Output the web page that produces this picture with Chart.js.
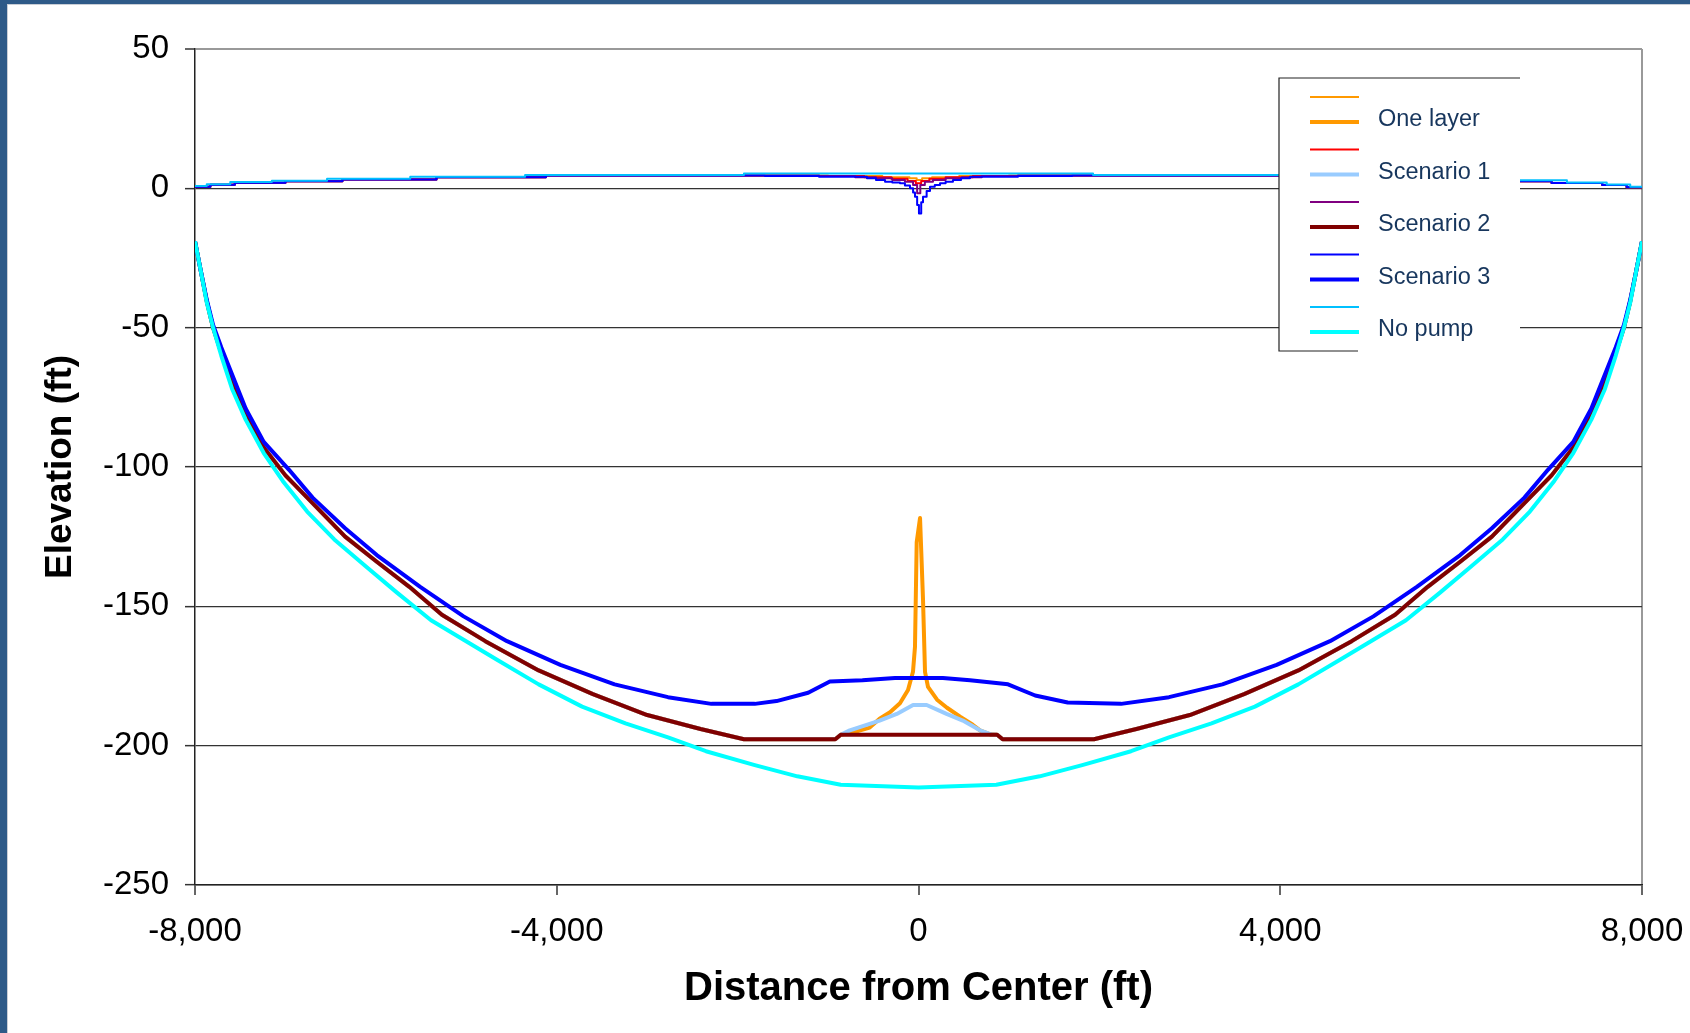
<!DOCTYPE html>
<html>
<head>
<meta charset="utf-8">
<title>Elevation vs distance from center</title>
<script src="https://cdn.jsdelivr.net/npm/chart.js@4.4.1/dist/chart.umd.min.js"></script>
<style>
  html, body { margin: 0; padding: 0; }
  body { width: 1690px; height: 1033px; overflow: hidden; background: #2E5A88; position: relative; }
  #frame { position: absolute; left: 7px; top: 4px; width: 1682px; height: 1028px; background: #fff;
           border-left: 1px solid #c9ced6; border-top: 1px solid #c9ced6; }
  #wrap { position: absolute; left: 0; top: 0; width: 1682px; height: 1028px; }
</style>
</head>
<body>
<div id="frame"><div id="wrap"><canvas id="chart"></canvas></div></div>
<script>
// upper layer (thin lines), elevation in ft, distance in ft
const olThinX = [-8000, -7830, -7560, -7000, -6370, -5330, -4120, -1000, -400, -100, -20, 40, 150, 450, 1000, 4120, 5330, 6370, 7000, 7560, 7830, 8000];
const olThinY = [0.6, 1.3, 2.0, 2.5, 3.2, 4.0, 4.6, 4.4, 4.0, 3.6, 3.0, 3.6, 4.0, 4.4, 4.6, 4.0, 3.2, 2.5, 1.9, 1.2, 0.4, 0.4];

const s1ThinX = [-8000, -7830, -7560, -7000, -6370, -5330, -4120, -1100, -600, -300, -120, -30, 30, 120, 300, 600, 1100, 4120, 5330, 6370, 7000, 7560, 7830, 8000];
const s1ThinY = [0.6, 1.3, 2.0, 2.5, 3.2, 4.0, 4.6, 4.4, 4.0, 3.4, 2.6, 1.8, 2.6, 3.4, 4.0, 4.4, 4.6, 4.0, 3.2, 2.5, 1.9, 1.2, 0.4, 0.4];

const s2ThinX = [-8000, -7830, -7560, -7000, -6370, -5330, -4120, -1100, -700, -470, -290, -150, -60, -15, 20, 70, 160, 300, 480, 700, 1100, 4120, 5330, 6370, 7000, 7560, 7830, 8000];
const s2ThinY = [0.6, 1.3, 2.0, 2.5, 3.2, 4.0, 4.6, 4.4, 4.0, 3.6, 3.0, 2.4, 1.2, -1.8, 1.2, 2.4, 3.0, 3.6, 4.0, 4.4, 4.6, 4.0, 3.2, 2.5, 1.9, 1.2, 0.4, 0.4];

const s3ThinX = [-8000, -7830, -7560, -7000, -6370, -5330, -4120, -1700, -1100, -570, -470, -370, -290, -205, -150, -94, -60, -39, -15, 5, 30, 50, 90, 127, 180, 238, 300, 381, 470, 569, 1100, 1700, 4120, 5330, 6370, 7000, 7560, 7830, 8000];
const s3ThinY = [0.6, 1.3, 2.0, 2.5, 3.2, 4.0, 4.6, 4.4, 4.2, 3.6, 3.0, 2.4, 2.1, 1.8, 1.0, 0, -1.5, -3, -6, -9, -5, -3, -1, 0.6, 1.2, 1.8, 2.4, 3.0, 3.6, 4.2, 4.4, 4.6, 4.0, 3.2, 2.5, 1.9, 1.2, 0.4, 0.4];

const npThinX = [-8000, -7870, -7610, -7150, -6540, -5620, -4350, -1930, 1930, 4350, 5620, 6540, 7170, 7610, 7870, 8000];
const npThinY = [0.8, 1.5, 2.3, 2.7, 3.4, 4.2, 4.8, 5.3, 4.8, 4.2, 3.4, 2.9, 2.1, 1.4, 0.6, 0.6];

// lower layer (thick lines)
const olThickX = [-8000, -7940, -7870, -7800, -7710, -7440, -7240, -7000, -6700, -6340, -5990, -5630, -5270, -4790, -4200, -3600, -3000, -2410, -1930,
  -920, -860, -700, -540, -430, -315, -205, -116, -61, -39, -20, 17, 50, 72, 105, 205, 315, 460, 600, 680, 800, 870, 930,
  1940, 2410, 3000, 3600, 4200, 4790, 5270, 5630, 5990, 6340, 6700, 7000, 7240, 7440, 7710, 7800, 7870, 7940, 8000];
const olThickY = [-19, -29, -40.5, -50, -59, -81, -93, -103, -113, -125, -134, -143, -153, -162.5, -173, -181.5, -189, -194, -197.7,
  -197.7, -196.1, -195, -193.5, -190.3, -188, -184.8, -180, -173.5, -164.6, -127, -118.3, -147.7, -173.5, -178.9, -183.5, -186.4, -189.6, -192.5, -194.5, -196, -196.1, -197.7,
  -197.7, -194, -189, -181.5, -173, -162.5, -153, -143, -134, -125, -113, -103, -93, -81, -59, -50, -40.5, -29, -19];

const s1ThickX = [-8000, -7940, -7870, -7800, -7710, -7440, -7240, -7000, -6700, -6340, -5990, -5630, -5270, -4790, -4200, -3600, -3000, -2410, -1930,
  -920, -860, -760, -430, -240, -60, 90, 310, 490, 680, 810, 870, 930,
  1940, 2410, 3000, 3600, 4200, 4790, 5270, 5630, 5990, 6340, 6700, 7000, 7240, 7440, 7710, 7800, 7870, 7940, 8000];
const s1ThickY = [-19, -29, -40.5, -50, -59, -81, -93, -103, -113, -125, -134, -143, -153, -162.5, -173, -181.5, -189, -194, -197.7,
  -197.7, -196.1, -194.5, -191, -188.6, -185.4, -185.4, -188.6, -191, -194.5, -196, -196.1, -197.7,
  -197.7, -194, -189, -181.5, -173, -162.5, -153, -143, -134, -125, -113, -103, -93, -81, -59, -50, -40.5, -29, -19];

const s2ThickX = [-8000, -7940, -7870, -7800, -7710, -7440, -7240, -7000, -6700, -6340, -5990, -5630, -5270, -4790, -4200, -3600, -3000, -2410, -1930,
  -920, -860, 870, 930,
  1940, 2410, 3000, 3600, 4200, 4790, 5270, 5630, 5990, 6340, 6700, 7000, 7240, 7440, 7710, 7800, 7870, 7940, 8000];
const s2ThickY = [-19, -29, -40.5, -50, -59, -81, -93, -103, -113, -125, -134, -143, -153, -162.5, -173, -181.5, -189, -194, -197.7,
  -197.7, -196.1, -196.1, -197.7,
  -197.7, -194, -189, -181.5, -173, -162.5, -153, -143, -134, -125, -113, -103, -93, -81, -59, -50, -40.5, -29, -19];

const s3ThickX = [-8000, -7940, -7870, -7800, -7710, -7440, -7240, -6960, -6700, -6340, -5990, -5510, -5030, -4550, -3960, -3360, -2770, -2290, -1810, -1570, -1220, -980, -620, -260,
  270, 570, 990, 1290, 1650, 2240,
  2770, 3360, 3960, 4550, 5030, 5510, 5990, 6340, 6700, 6960, 7240, 7440, 7710, 7800, 7870, 7940, 8000];
const s3ThickY = [-19, -29, -40, -49, -57, -79, -91, -101, -111, -122, -131.6, -143, -153.6, -162.5, -171, -178, -182.6, -185, -185, -184, -181, -177, -176.5, -175.7,
  -175.7, -176.5, -178, -182, -184.5, -185,
  -182.6, -178, -171, -162.5, -153.6, -143, -131.6, -122, -111, -101, -91, -79, -57, -49, -40, -29, -19];

const npThickX = [-8000, -7940, -7870, -7800, -7710, -7590, -7440, -7240, -7030, -6760, -6460, -6100, -5770, -5390, -5030, -4670, -4200, -3720, -3240, -2770, -2350, -1810, -1340, -860,
  0,
  860, 1340, 1810, 2350, 2770, 3240, 3720, 4200, 4670, 5030, 5390, 5770, 6100, 6460, 6760, 7030, 7240, 7440, 7590, 7710, 7800, 7870, 7940, 8000];
const npThickY = [-19, -29, -41, -50, -60, -72, -83, -95, -105, -116, -126, -136, -145, -155, -162, -169, -178, -186, -192, -197, -202, -207, -211, -214,
  -215,
  -214, -211, -207, -202, -197, -192, -186, -178, -169, -162, -155, -145, -136, -126, -116, -105, -95, -83, -72, -60, -50, -41, -29, -19];

const xTicks = [-8000, -4000, 0, 4000, 8000];
const yTicks = [-250, -200, -150, -100, -50, 0, 50];

const FONT = '"Liberation Sans", Arial, Helvetica, sans-serif';

const pts = (xs, ys) => xs.map((x, i) => ({ x: x, y: ys[i] }));

// series in legend order; Excel draws later series on top
const series = [
  { label: '',           xs: olThinX,  ys: olThinY,  color: '#FF9900', width: 2, stepped: true },
  { label: 'One layer',  xs: olThickX, ys: olThickY, color: '#FF9900', width: 4 },
  { label: '',           xs: s1ThinX,  ys: s1ThinY,  color: '#FF0000', width: 2, stepped: true },
  { label: 'Scenario 1', xs: s1ThickX, ys: s1ThickY, color: '#99CCFF', width: 4 },
  { label: '',           xs: s2ThinX,  ys: s2ThinY,  color: '#800080', width: 2, stepped: true },
  { label: 'Scenario 2', xs: s2ThickX, ys: s2ThickY, color: '#800000', width: 4 },
  { label: '',           xs: s3ThinX,  ys: s3ThinY,  color: '#0000FF', width: 2, stepped: true },
  { label: 'Scenario 3', xs: s3ThickX, ys: s3ThickY, color: '#0000FF', width: 4 },
  { label: '',           xs: npThinX,  ys: npThinY,  color: '#00C0FF', width: 2, stepped: true },
  { label: 'No pump',    xs: npThickX, ys: npThickY, color: '#00FFFF', width: 4 },
];

const datasets = series.map((s, i) => ({
  label: s.label,
  data: pts(s.xs, s.ys),
  borderColor: s.color,
  backgroundColor: s.color,
  borderWidth: s.width,
  stepped: s.stepped || false,
  order: series.length - 1 - i,
  fill: false,
}));

// boxed legend in the upper right, white background hides the lines under it
const legendBox = {
  id: 'legendBox',
  afterDatasetsDraw(chart) {
    const area = chart.chartArea;
    const ctx = chart.ctx;
    const left = area.right - 363, top = area.top + 29;
    const right = left + 241, bottom = top + 273;
    ctx.save();
    ctx.fillStyle = '#ffffff';
    ctx.fillRect(left, top, right - left, bottom - top);
    ctx.strokeStyle = '#222';
    ctx.lineWidth = 1.2;
    ctx.beginPath();
    ctx.moveTo(left + 79, bottom);
    ctx.lineTo(left, bottom);
    ctx.lineTo(left, top);
    ctx.lineTo(right, top);
    ctx.stroke();
    chart.data.datasets.forEach((ds, i) => {
      const y = top + 19 + Math.floor(i / 2) * 52.5 + (i % 2) * 25;
      ctx.strokeStyle = ds.borderColor;
      ctx.lineWidth = ds.borderWidth;
      ctx.beginPath();
      ctx.moveTo(left + 31, y);
      ctx.lineTo(left + 80, y);
      ctx.stroke();
      if (ds.label) {
        ctx.fillStyle = '#17365D';
        ctx.font = '23.5px ' + FONT;
        ctx.textAlign = 'left';
        ctx.textBaseline = 'middle';
        ctx.fillText(ds.label, left + 99, y - 2);
      }
    });
    ctx.restore();
  }
};

new Chart(document.getElementById('chart'), {
  type: 'line',
  data: { datasets: datasets },
  options: {
    responsive: true,
    maintainAspectRatio: false,
    animation: false,
    layout: { padding: { top: 44, right: 48, left: 0, bottom: 0 } },
    plugins: { legend: { display: false }, tooltip: { enabled: false } },
    elements: {
      point: { radius: 0, hoverRadius: 0 },
      line: { tension: 0, borderJoinStyle: 'round', borderCapStyle: 'butt' },
    },
    scales: {
      x: {
        type: 'linear',
        min: xTicks[0],
        max: xTicks[xTicks.length - 1],
        afterFit: (s) => { s.height = 148; s.paddingLeft = 0; s.paddingRight = 0; },
        afterBuildTicks: (s) => { s.ticks = xTicks.map(v => ({ value: v })); },
        border: { display: true, color: '#222', width: 1.5 },
        grid: {
          drawOnChartArea: true,
          color: (c) => (c.tick && c.tick.value === xTicks[xTicks.length - 1]) ? '#999' : 'rgba(0,0,0,0)',
          lineWidth: 2,
          tickLength: 10,
          tickColor: '#333',
          tickWidth: 1.5,
        },
        ticks: {
          autoSkip: false,
          maxRotation: 0,
          padding: 17,
          color: '#000',
          font: { family: FONT, size: 33 },
          callback: (v) => Number(v).toLocaleString('en-US'),
        },
        title: {
          display: true,
          text: 'Distance from Center (ft)',
          color: '#000',
          font: { family: FONT, size: 40, weight: 'bold' },
          padding: { top: 0, bottom: 20 },
        },
      },
      y: {
        type: 'linear',
        min: yTicks[0],
        max: yTicks[yTicks.length - 1],
        afterFit: (s) => { s.width = 187; s.paddingTop = 0; s.paddingBottom = 0; },
        afterBuildTicks: (s) => { s.ticks = yTicks.map(v => ({ value: v })); },
        border: { display: true, color: '#222', width: 1.5 },
        grid: {
          drawOnChartArea: true,
          color: (c) => (c.tick && c.tick.value === yTicks[yTicks.length - 1]) ? '#999' : '#333',
          lineWidth: (c) => (c.tick && c.tick.value === yTicks[yTicks.length - 1]) ? 2 : 1.3,
          tickLength: 10,
          tickColor: '#333',
          tickWidth: 1.5,
        },
        ticks: {
          padding: 16,
          color: '#000',
          font: { family: FONT, size: 33 },
          callback: (v) => String(v),
        },
        title: {
          display: true,
          text: 'Elevation (ft)',
          color: '#000',
          font: { family: FONT, size: 37, weight: 'bold' },
          padding: { top: 31, bottom: 0 },
        },
      },
    },
  },
  plugins: [legendBox],
});
</script>
</body>
</html>
